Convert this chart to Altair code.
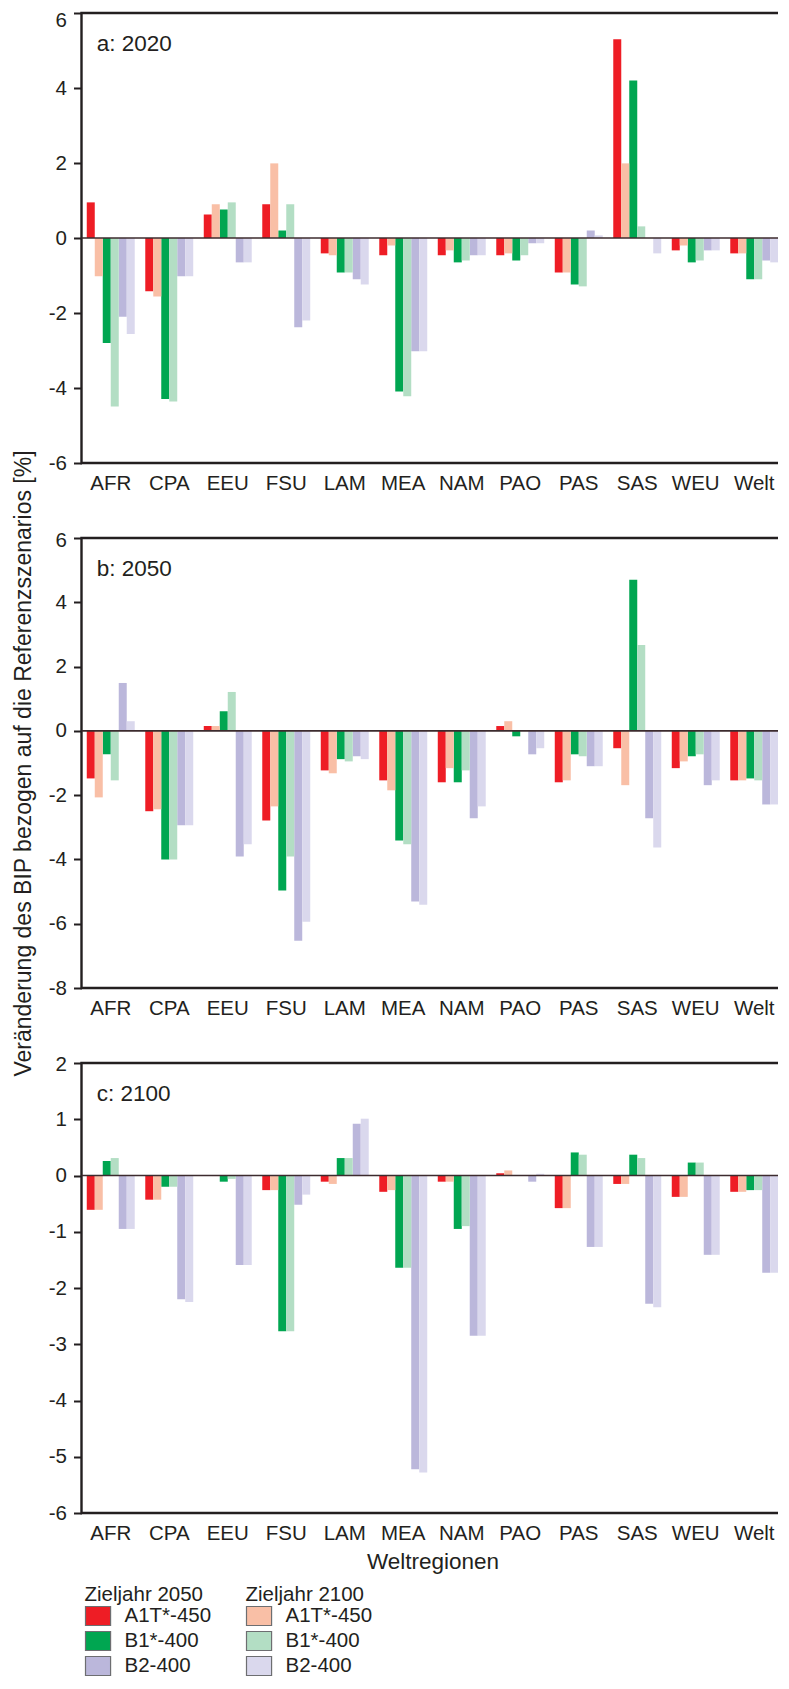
import altair as alt
import pandas as pd

regions = ["AFR", "CPA", "EEU", "FSU", "LAM", "MEA", "NAM", "PAO", "PAS", "SAS", "WEU", "Welt"]
scenarios = ["A1T*-450", "B1*-400", "B2-400"]
years = ["2050", "2100"]

# Panel a: 2020
a_a1t_2050 = [0.95, -1.42, 0.63, 0.90, -0.41, -0.46, -0.46, -0.46, -0.92, 5.30, -0.33, -0.41]
a_a1t_2100 = [-1.02, -1.56, 0.90, 1.99, -0.46, -0.20, -0.33, -0.41, -0.92, 1.99, -0.20, -0.41]
a_b1_2050 = [-2.80, -4.29, 0.76, 0.20, -0.92, -4.09, -0.65, -0.60, -1.24, 4.20, -0.65, -1.10]
a_b1_2100 = [-4.49, -4.36, 0.95, 0.90, -0.92, -4.22, -0.60, -0.46, -1.29, 0.31, -0.60, -1.10]
a_b2_2050 = [-2.10, -1.02, -0.65, -2.38, -1.10, -3.02, -0.46, -0.14, 0.20, 0.00, -0.33, -0.60]
a_b2_2100 = [-2.56, -1.02, -0.65, -2.20, -1.24, -3.02, -0.46, -0.14, 0.07, -0.41, -0.33, -0.65]

# Panel b: 2050
b_a1t_2050 = [-1.48, -2.50, 0.15, -2.79, -1.23, -1.54, -1.60, 0.15, -1.60, -0.54, -1.16, -1.54]
b_a1t_2100 = [-2.07, -2.44, 0.15, -2.35, -1.32, -1.85, -1.16, 0.30, -1.54, -1.69, -0.95, -1.54]
b_b1_2050 = [-0.73, -4.00, 0.61, -4.97, -0.88, -3.41, -1.60, -0.17, -0.73, 4.70, -0.79, -1.48]
b_b1_2100 = [-1.54, -4.00, 1.21, -3.91, -0.95, -3.53, -1.23, 0.00, -0.79, 2.67, -0.73, -1.54]
b_b2_2050 = [1.49, -2.94, -3.91, -6.53, -0.79, -5.31, -2.72, -0.73, -1.10, -2.72, -1.69, -2.29]
b_b2_2100 = [0.30, -2.94, -3.53, -5.94, -0.88, -5.41, -2.35, -0.54, -1.10, -3.63, -1.54, -2.29]

# Panel c: 2100
c_a1t_2050 = [-0.61, -0.43, -0.01, -0.26, -0.11, -0.29, -0.11, 0.04, -0.58, -0.15, -0.38, -0.29]
c_a1t_2100 = [-0.61, -0.43, -0.01, -0.26, -0.15, -0.26, -0.11, 0.09, -0.58, -0.15, -0.38, -0.29]
c_b1_2050 = [0.26, -0.20, -0.11, -2.77, 0.31, -1.64, -0.95, 0.00, 0.41, 0.37, 0.23, -0.26]
c_b1_2100 = [0.31, -0.20, -0.06, -2.77, 0.31, -1.64, -0.90, 0.00, 0.37, 0.31, 0.23, -0.26]
c_b2_2050 = [-0.95, -2.20, -1.59, -0.52, 0.92, -5.22, -2.85, -0.11, -1.27, -2.28, -1.41, -1.73]
c_b2_2100 = [-0.95, -2.25, -1.59, -0.34, 1.01, -5.28, -2.85, 0.03, -1.27, -2.34, -1.41, -1.73]

panels = {
    "a": {"A1T*-450": (a_a1t_2050, a_a1t_2100), "B1*-400": (a_b1_2050, a_b1_2100), "B2-400": (a_b2_2050, a_b2_2100)},
    "b": {"A1T*-450": (b_a1t_2050, b_a1t_2100), "B1*-400": (b_b1_2050, b_b1_2100), "B2-400": (b_b2_2050, b_b2_2100)},
    "c": {"A1T*-450": (c_a1t_2050, c_a1t_2100), "B1*-400": (c_b1_2050, c_b1_2100), "B2-400": (c_b2_2050, c_b2_2100)},
}
panel_labels = {"a": "a: 2020", "b": "b: 2050", "c": "c: 2100"}

colors_2050 = ["#ee1d25", "#00a651", "#bbb7db"]
colors_2100 = ["#f9bfa6", "#b3dec4", "#dad8ed"]

slots = [f"{s} {y}" for s in scenarios for y in years]

rows = []
for p, series in panels.items():
    for s in scenarios:
        for yi, y in enumerate(years):
            for r, v in zip(regions, series[s][yi]):
                rows.append({"panel": p, "region": r, "scenario": s, "year": y,
                             "slot": f"{s} {y}", "value": v})
df = pd.DataFrame(rows)

INK = "#231f20"
FONT = "Liberation Sans"
RECT = "M-1,-1H1.64V1H-1Z"


def panel(p, ydomain, yticks, ytitle=None, bottom=False, top_shift=0):
    data = df[df.panel == p]
    xscale = alt.Scale(paddingInner=0.18, paddingOuter=0.09)
    xaxis = alt.Axis(title="Weltregionen" if bottom else None, labelAngle=0,
                     ticks=False, tickSize=0, domain=False, labelPadding=10,
                     titleFontSize=22.5, titlePadding=7)
    x = alt.X("region:N", sort=regions, scale=xscale, axis=xaxis)
    yscale = alt.Scale(domain=ydomain, nice=False, zero=False)
    y = alt.Y("value:Q", scale=yscale,
              axis=alt.Axis(values=yticks, title=ytitle, grid=False, domain=False,
                            tickSize=8, tickWidth=2, tickColor=INK, labelPadding=7,
                            labelExpr="datum.value + ''",
                            labelOffset=alt.condition(f"datum.value == {ydomain[1]}",
                                                      alt.value(top_shift), alt.value(0)),
                            titleFontSize=23, titlePadding=12.5))
    xo = alt.XOffset("slot:N", sort=slots, scale=alt.Scale(domain=slots))
    layers = []
    for yr, cols, lx in (("2050", colors_2050, 3), ("2100", colors_2100, 164)):
        leg = None
        if bottom:
            leg = alt.Legend(title=f"Zieljahr {yr}", orient="none", direction="vertical",
                             legendX=lx, legendY=522, symbolType=RECT, symbolSize=361,
                             symbolStrokeColor="#6d6e71", symbolStrokeWidth=1.2,
                             symbolOpacity=1, labelOffset=19, rowPadding=0,
                             titlePadding=0, labelFontSize=20.5, titleFontSize=20.5)
        layers.append(
            alt.Chart(data).transform_filter(alt.datum.year == yr).mark_bar().encode(
                x=x, y=y, xOffset=xo,
                color=alt.Color("scenario:N", scale=alt.Scale(domain=scenarios, range=cols),
                                legend=leg),
            )
        )
    zero = alt.Chart(pd.DataFrame({"zero": [0]})).mark_rule(color="#3c2b2e", strokeWidth=1.6).encode(
        y=alt.Y("zero:Q", scale=yscale))
    lab = alt.Chart(pd.DataFrame({"region": [regions[0]], "value": [ydomain[1]],
                                  "label": [panel_labels[p]]})).mark_text(
        align="left", baseline="alphabetic", dx=10, dy=38, fontSize=22.5, font=FONT, color=INK
    ).encode(
        x=alt.X("region:N", sort=regions, scale=xscale, axis=xaxis, bandPosition=0),
        y=alt.Y("value:Q", scale=yscale),
        text="label:N",
    )
    return alt.layer(*layers, zero, lab).resolve_scale(color="independent").properties(
        width=702, height=450)


chart = alt.vconcat(
    panel("a", [-6, 6], [-6, -4, -2, 0, 2, 4, 6], top_shift=7),
    panel("b", [-8, 6], [-8, -6, -4, -2, 0, 2, 4, 6],
          ytitle="Veränderung des BIP bezogen auf die Referenzszenarios [%]", top_shift=2),
    panel("c", [-6, 2], [-6, -5, -4, -3, -2, -1, 0, 1, 2], bottom=True, top_shift=1),
    spacing=75, bounds="flush",
).properties(
    padding={"left": 3.5, "top": 0, "right": -8, "bottom": -2}
).configure_view(
    stroke=INK, strokeWidth=2.4
).configure_axis(
    labelFont=FONT, titleFont=FONT, labelFontSize=20.5, labelColor=INK, titleColor=INK,
    titleFontWeight="normal",
).configure_legend(
    labelFont=FONT, titleFont=FONT, labelColor=INK, titleColor=INK, titleFontWeight="normal",
)

chart.save("out.html", embed_options={"renderer": "svg", "actions": False})
